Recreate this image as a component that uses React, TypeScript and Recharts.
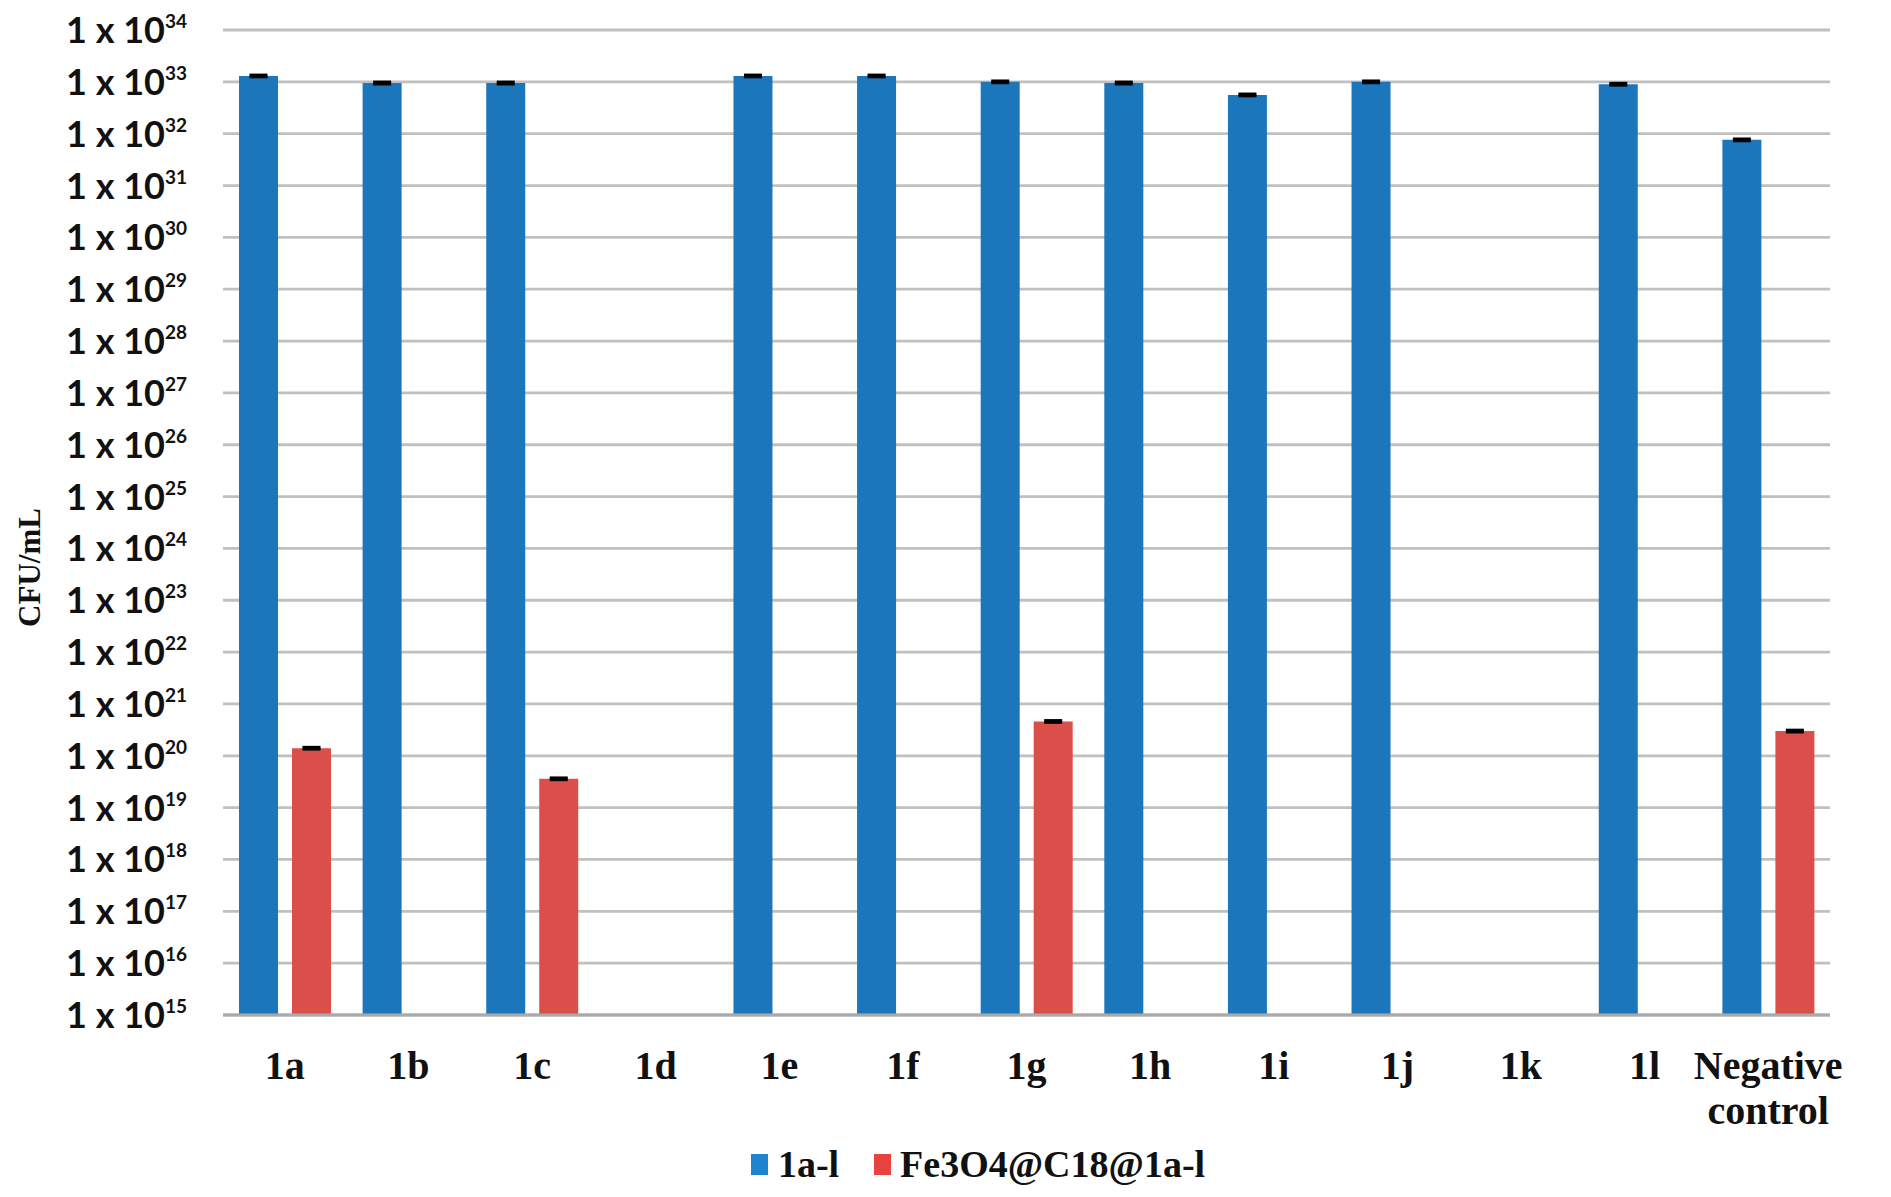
import React from 'react';
import { BarChart, Bar, XAxis, YAxis, CartesianGrid, Legend, ErrorBar } from 'recharts';

const categories = ['1a', '1b', '1c', '1d', '1e', '1f', '1g', '1h', '1i', '1j', '1k', '1l', 'Negative control'];
const blueValues: (number | null)[] = [1.3e33, 0.95e33, 0.95e33, null, 1.3e33, 1.3e33, 1.0e33, 0.95e33, 5.6e32, 1.0e33, null, 0.9e33, 7.6e31];
const redValues: (number | null)[] = [1.4e20, null, 3.6e19, null, null, null, 4.6e20, null, null, null, null, null, 3.0e20];
const blueErrors: (number | null)[] = [5e31, 4e31, 4e31, null, 5e31, 5e31, 4e31, 4e31, 2.2e31, 4e31, null, 3.6e31, 3e30];
const redErrors: (number | null)[] = [5.6e18, null, 1.4e18, null, null, null, 1.8e19, null, null, null, null, null, 1.2e19];
const yTicks = [1e15, 1e16, 1e17, 1e18, 1e19, 1e20, 1e21, 1e22, 1e23, 1e24, 1e25, 1e26, 1e27, 1e28, 1e29, 1e30, 1e31, 1e32, 1e33, 1e34];
const seriesNames = ['1a-l', 'Fe3O4@C18@1a-l'];

const BLUE = '#1c76bc';
const RED = '#db4f4b';

const data = categories.map((c, i) => ({
  name: c,
  blue: blueValues[i],
  red: redValues[i],
  blueErr: blueErrors[i],
  redErr: redErrors[i],
}));

const YTick = (props: any) => {
  const { x, y, payload } = props;
  const exp = Math.round(Math.log10(payload.value));
  return (
    <text x={x} y={y} textAnchor="end" fontFamily="Lato" fontWeight={700} fill="#111">
      <tspan fontSize={36} dy={13}>1 x 10</tspan>
      <tspan fontSize={19} dy={-15}>{exp}</tspan>
    </text>
  );
};

const XTick = (props: any) => {
  const { x, y, payload } = props;
  const words = String(payload.value).split(' ');
  return (
    <text x={x} y={y} textAnchor="middle" fontFamily="Liberation Serif" fontWeight={700} fontSize={40} fill="#111">
      {words.map((w, i) => (
        <tspan key={i} x={x} dy={i === 0 ? 64 : 45}>{w}</tspan>
      ))}
    </text>
  );
};

const LegendContent = () => (
  <div
    style={{
      height: 42,
      paddingLeft: 126,
      display: 'flex',
      justifyContent: 'center',
      alignItems: 'center',
      fontFamily: 'Liberation Serif',
      fontWeight: 700,
      fontSize: 38,
      color: '#111',
    }}
  >
    <span style={{ display: 'inline-block', width: 17, height: 21, background: '#1f84cf', marginRight: 10 }} />
    <span style={{ marginRight: 35 }}>{seriesNames[0]}</span>
    <span style={{ display: 'inline-block', width: 17, height: 21, background: '#e8423f', marginRight: 9 }} />
    <span>{seriesNames[1]}</span>
  </div>
);

const YTitle = (props: any) => {
  const { viewBox } = props;
  const cx = 29;
  const cy = viewBox.y + viewBox.height / 2 + 45;
  return (
    <text
      x={cx}
      y={cy}
      transform={`rotate(-90, ${cx}, ${cy})`}
      textAnchor="middle"
      dominantBaseline="central"
      fontFamily="Liberation Serif"
      fontWeight={700}
      fontSize={31}
      fill="#111"
    >
      CFU/mL
    </text>
  );
};

export default function App() {
  return (
    <div style={{ position: 'absolute', left: 0, top: 0, background: '#fff' }}>
      <BarChart
        width={1891}
        height={1197}
        data={data}
        margin={{ top: 30, right: 61, left: 0, bottom: 12 }}
        barSize={39}
        barGap={14}
      >
        <CartesianGrid vertical={false} stroke="#c0c0c0" strokeWidth={2.8} />
        <XAxis
          dataKey="name"
          interval={0}
          height={128}
          tickSize={0}
          tickMargin={0}
          tick={<XTick />}
          axisLine={{ stroke: '#aaaaaa', strokeWidth: 2.8 }}
          tickLine={false}
        />
        <YAxis
          scale="log"
          domain={[1e15, 1e34]}
          ticks={yTicks}
          allowDataOverflow
          width={223}
          tickSize={0}
          tickMargin={36}
          tick={<YTick />}
          axisLine={false}
          tickLine={false}
          label={<YTitle />}
        />
        <Legend verticalAlign="bottom" content={<LegendContent />} />
        <Bar dataKey="blue" name={seriesNames[0]} fill={BLUE} isAnimationActive={false}>
          <ErrorBar dataKey="blueErr" width={9} strokeWidth={3} stroke="#000" />
        </Bar>
        <Bar dataKey="red" name={seriesNames[1]} fill={RED} isAnimationActive={false}>
          <ErrorBar dataKey="redErr" width={9} strokeWidth={3} stroke="#000" />
        </Bar>
      </BarChart>
    </div>
  );
}
